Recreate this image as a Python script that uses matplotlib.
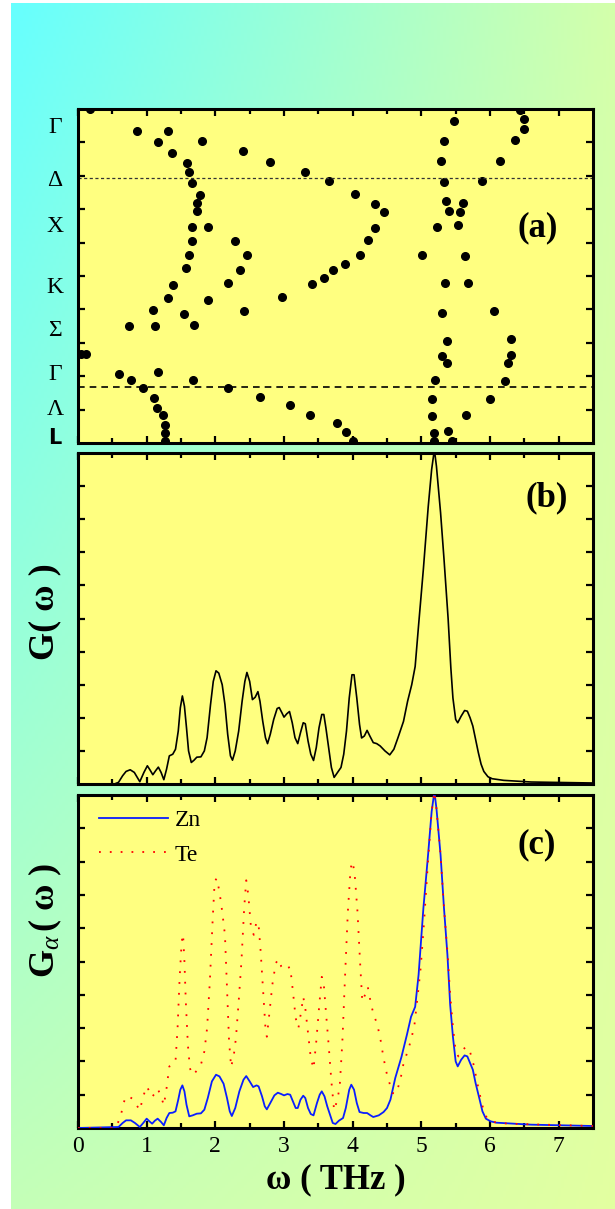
import numpy as np
import matplotlib.pyplot as plt
from matplotlib.transforms import blended_transform_factory

plt.rcParams['font.family'] = 'Liberation Serif'
plt.rcParams['mathtext.fontset'] = 'custom'
plt.rcParams['mathtext.rm'] = 'Liberation Serif'
plt.rcParams['mathtext.it'] = 'Liberation Serif:italic'
plt.rcParams['mathtext.bf'] = 'Liberation Serif:bold'

# (a) dispersion points: frequency (THz) vs. position along the k-path
omega_disp = [0.17, 0.864, 1.306, 1.16, 1.806, 1.369, 2.41, 2.79, 1.583, 1.62,
              3.30, 1.656, 3.65, 1.78, 4.03, 1.74, 4.33, 1.74, 4.46, 1.66,
              1.90, 4.32, 1.656, 2.29, 4.23, 1.61, 2.46, 4.11, 1.57, 2.36,
              3.89, 3.71, 3.58, 1.39, 2.19, 3.41, 1.31, 1.89, 2.97, 1.09,
              2.42, 1.54, 0.743, 1.117, 1.685, 0.05, 0.12, 0.597, 1.17, 0.772,
              1.67, 0.942, 2.19, 1.10, 2.655, 1.15, 3.09, 1.24, 3.38, 1.267,
              1.26, 1.26, 3.77, 3.90, 4.0,
              5.475, 5.33, 5.29, 5.33, 5.36, 5.40, 5.61, 5.57, 5.53, 5.23,
              5.01, 5.64, 5.35, 5.68, 5.30, 6.06, 5.38, 6.31, 5.30, 6.31,
              5.37, 6.26, 5.20, 6.22, 5.16, 6.00, 5.155, 5.65, 5.19, 5.39,
              5.19, 5.45, 6.50, 6.50, 6.36, 6.14, 5.88, 6.44]
k_disp = [10.0, 9.35, 9.35, 9.02, 9.05, 8.69, 8.73, 8.42, 8.39, 8.10,
          8.10, 7.77, 7.83, 7.43, 7.45, 7.18, 7.16, 6.95, 6.92, 6.48,
          6.48, 6.44, 6.05, 6.05, 6.07, 5.63, 5.63, 5.64, 5.24, 5.17,
          5.37, 5.19, 4.95, 4.74, 4.78, 4.77, 4.35, 4.28, 4.36, 3.97,
          3.96, 3.87, 3.51, 3.51, 3.54, 2.67, 2.67, 2.08, 2.14, 1.88,
          1.89, 1.65, 1.65, 1.35, 1.39, 1.04, 1.14, 0.84, 0.84, 0.54,
          0.29, 0.05, 0.59, 0.32, 0.05,
          9.63, 9.03, 8.43, 7.81, 7.24, 6.96, 7.19, 6.92, 6.54, 6.46,
          5.64, 5.61, 4.78, 4.80, 3.88, 3.95, 3.06, 3.10, 2.61, 2.63,
          2.39, 2.39, 1.88, 1.86, 1.33, 1.33, 0.81, 0.85, 0.31, 0.36,
          0.05, 0.05, 9.71, 9.39, 9.07, 8.43, 7.83, 9.97]
k_labels = ['Γ', 'Δ', 'X', 'K', 'Σ', 'Γ', 'Λ', 'L']
k_label_pos = [9.46, 7.87, 6.47, 4.67, 3.38, 2.04, 0.99, 0.15]
k_lines = [7.93, 1.68]

# (b) total density of states
omega_g = [0.0, 0.53, 0.59, 0.65, 0.70, 0.76, 0.82, 0.90, 0.96, 1.01,
           1.05, 1.09, 1.13, 1.17, 1.21, 1.25, 1.29, 1.33, 1.38, 1.42,
           1.46, 1.49, 1.52, 1.55, 1.58, 1.61, 1.65, 1.69, 1.73, 1.79,
           1.84, 1.88, 1.93, 1.97, 2.01, 2.05, 2.10, 2.14, 2.18, 2.22,
           2.25, 2.29, 2.34, 2.39, 2.43, 2.46, 2.50, 2.54, 2.58, 2.62,
           2.65, 2.69, 2.73, 2.76, 2.80, 2.85, 2.90, 2.93, 2.97, 3.00,
           3.04, 3.08, 3.12, 3.16, 3.20, 3.24, 3.28, 3.31, 3.35, 3.39,
           3.43, 3.47, 3.51, 3.55, 3.58, 3.61, 3.65, 3.69, 3.73, 3.78,
           3.83, 3.87, 3.91, 3.95, 3.99, 4.02, 4.06, 4.10, 4.13, 4.17,
           4.21, 4.25, 4.30, 4.35, 4.40, 4.47, 4.54, 4.60, 4.66, 4.74,
           4.80, 4.86, 4.91, 4.96, 5.03, 5.10, 5.15, 5.19, 5.22, 5.28,
           5.33, 5.39, 5.43, 5.46, 5.50, 5.53, 5.58, 5.63, 5.67, 5.71,
           5.75, 5.79, 5.83, 5.87, 5.91, 5.97, 6.03, 6.20, 6.60, 7.50]
g_total = [0.0, 0.0, 0.05, 0.25, 0.38, 0.43, 0.35, 0.07, 0.35, 0.55,
           0.42, 0.28, 0.40, 0.51, 0.35, 0.13, 0.45, 0.85, 0.90, 1.05,
           1.60, 2.30, 2.66, 2.35, 1.70, 1.00, 0.65, 0.72, 0.81, 0.82,
           1.00, 1.40, 2.40, 3.10, 3.42, 3.35, 3.00, 2.40, 1.50, 0.85,
           0.72, 1.00, 1.60, 2.50, 3.10, 3.37, 3.10, 2.55, 2.62, 2.79,
           2.50, 1.90, 1.40, 1.22, 1.50, 1.95, 2.28, 2.31, 2.15, 2.02,
           2.12, 2.19, 1.85, 1.40, 1.22, 1.55, 1.85, 1.82, 1.30, 0.90,
           0.71, 1.10, 1.70, 2.10, 2.10, 1.70, 1.10, 0.50, 0.20, 0.35,
           0.50, 0.90, 1.60, 2.60, 3.30, 3.30, 2.60, 1.80, 1.39, 1.45,
           1.62, 1.45, 1.25, 1.22, 1.15, 1.00, 0.88, 1.05, 1.40, 1.89,
           2.50, 3.00, 3.55, 4.80, 6.50, 8.37, 9.50, 10.1, 9.60, 8.20,
           6.80, 5.00, 3.50, 2.60, 1.95, 1.85, 2.05, 2.22, 2.20, 2.00,
           1.75, 1.35, 0.95, 0.60, 0.38, 0.22, 0.16, 0.11, 0.06, 0.03]

# (c) partial density of states
omega_zn = [0.0, 0.59, 0.65, 0.70, 0.77, 0.83, 0.90, 0.95, 1.00, 1.04,
            1.08, 1.12, 1.16, 1.21, 1.25, 1.29, 1.33, 1.38, 1.42, 1.46,
            1.49, 1.52, 1.55, 1.58, 1.62, 1.67, 1.73, 1.79, 1.84, 1.89,
            1.95, 2.01, 2.06, 2.12, 2.17, 2.21, 2.24, 2.29, 2.35, 2.41,
            2.45, 2.50, 2.55, 2.60, 2.63, 2.68, 2.72, 2.75, 2.80, 2.86,
            2.91, 2.96, 3.00, 3.05, 3.09, 3.13, 3.17, 3.20, 3.24, 3.28,
            3.31, 3.35, 3.39, 3.43, 3.48, 3.52, 3.55, 3.59, 3.63, 3.67,
            3.71, 3.75, 3.80, 3.86, 3.90, 3.95, 3.98, 4.02, 4.06, 4.10,
            4.16, 4.21, 4.26, 4.30, 4.38, 4.45, 4.50, 4.55, 4.62, 4.71,
            4.79, 4.85, 4.91, 4.96, 5.03, 5.10, 5.15, 5.19, 5.22, 5.28,
            5.33, 5.38, 5.42, 5.46, 5.50, 5.53, 5.58, 5.63, 5.67, 5.71,
            5.75, 5.79, 5.84, 5.89, 5.94, 6.01, 6.09, 6.60, 7.50]
g_zn = [0.0, 0.03, 0.15, 0.23, 0.23, 0.15, 0.03, 0.15, 0.28, 0.20,
        0.13, 0.22, 0.28, 0.18, 0.08, 0.30, 0.45, 0.46, 0.50, 0.85,
        1.15, 1.28, 1.10, 0.70, 0.35, 0.38, 0.43, 0.44, 0.55, 0.90,
        1.40, 1.60, 1.55, 1.33, 0.90, 0.50, 0.36, 0.60, 1.10, 1.45,
        1.56, 1.40, 1.23, 1.28, 1.25, 0.95, 0.65, 0.56, 0.75, 0.98,
        1.06, 1.02, 0.98, 1.02, 1.00, 0.80, 0.60, 0.60, 0.85, 0.97,
        0.90, 0.60, 0.42, 0.38, 0.75, 1.00, 1.10, 0.95, 0.65, 0.40,
        0.15, 0.12, 0.22, 0.30, 0.60, 1.15, 1.30, 1.15, 0.75, 0.48,
        0.45, 0.45, 0.38, 0.33, 0.38, 0.48, 0.60, 0.85, 1.50, 2.13,
        2.80, 3.34, 3.64, 4.60, 6.60, 8.25, 9.50, 10.1, 9.60, 8.20,
        6.60, 5.20, 3.70, 2.74, 2.00, 1.85, 2.05, 2.18, 2.15, 1.95,
        1.75, 1.35, 0.93, 0.50, 0.28, 0.20, 0.16, 0.10, 0.06]
omega_te = [0.0, 0.55, 0.58, 0.62, 0.66, 0.69, 0.74, 0.79, 0.85, 0.90,
            0.95, 1.00, 1.04, 1.08, 1.12, 1.16, 1.21, 1.25, 1.29, 1.33,
            1.38, 1.42, 1.45, 1.48, 1.51, 1.53, 1.55, 1.57, 1.60, 1.63,
            1.66, 1.70, 1.74, 1.79, 1.84, 1.88, 1.92, 1.96, 1.99, 2.02,
            2.06, 2.10, 2.14, 2.17, 2.20, 2.23, 2.27, 2.30, 2.34, 2.38,
            2.42, 2.45, 2.48, 2.52, 2.56, 2.60, 2.63, 2.66, 2.70, 2.73,
            2.75, 2.79, 2.83, 2.88, 2.92, 2.96, 3.00, 3.05, 3.09, 3.13,
            3.17, 3.21, 3.25, 3.28, 3.31, 3.35, 3.39, 3.43, 3.47, 3.51,
            3.55, 3.58, 3.61, 3.65, 3.69, 3.73, 3.77, 3.81, 3.85, 3.89,
            3.93, 3.97, 4.00, 4.03, 4.07, 4.11, 4.14, 4.18, 4.22, 4.26,
            4.30, 4.36, 4.41, 4.45, 4.50, 4.54, 4.58, 4.63, 4.69, 4.74,
            4.80, 4.85, 4.90, 4.94, 4.99, 5.04, 5.10, 5.15, 5.19, 5.22,
            5.28, 5.33, 5.38, 5.42, 5.46, 5.50, 5.54, 5.60, 5.65, 5.69,
            5.73, 5.77, 5.81, 5.86, 5.91, 5.96, 6.05, 6.26, 7.50]
g_te = [0.0, 0.0, 0.15, 0.35, 0.70, 0.93, 0.95, 0.88, 0.70, 0.53,
        0.95, 1.25, 1.10, 0.93, 1.05, 1.18, 0.95, 0.68, 1.20, 1.85,
        1.90, 2.00, 3.00, 4.50, 5.60, 5.82, 5.00, 3.80, 2.50, 1.80,
        1.60, 1.65, 1.75, 1.90, 2.30, 3.00, 4.40, 6.20, 7.40, 7.50,
        7.10, 6.50, 5.80, 4.20, 2.60, 1.83, 2.20, 2.70, 3.80, 5.00,
        6.60, 7.44, 7.00, 6.00, 5.80, 6.20, 6.10, 5.30, 4.00, 3.00,
        2.74, 3.50, 4.30, 4.95, 5.07, 4.85, 4.74, 4.80, 4.84, 4.10,
        3.30, 3.00, 3.50, 3.94, 3.60, 2.84, 2.10, 1.78, 2.60, 3.60,
        4.54, 4.30, 3.50, 2.50, 1.40, 0.53, 0.80, 1.20, 2.60, 4.60,
        6.50, 7.80, 8.00, 7.60, 6.50, 4.90, 3.80, 4.00, 4.24, 3.80,
        3.44, 3.10, 2.60, 2.10, 1.60, 1.33, 1.05, 1.03, 1.40, 1.93,
        2.30, 2.64, 3.10, 3.84, 4.80, 6.20, 8.10, 9.50, 10.1, 9.60,
        8.20, 6.60, 5.30, 4.00, 3.04, 2.30, 2.15, 2.35, 2.43, 2.40,
        2.15, 1.83, 1.40, 0.93, 0.50, 0.28, 0.18, 0.13, 0.06]

W, H = 615, 1209
fig = plt.figure(figsize=(W / 100, H / 100), dpi=100, facecolor='white')

# diagonal cyan -> yellow-green backdrop
bg = fig.add_axes([11 / W, 0, 1 - 11 / W, 1 - 3 / H], zorder=-10)
bg.set_axis_off()
c_tl = np.array([0.40, 1.00, 1.00])
c_tr = np.array([0.83, 1.00, 0.67])
c_bl = np.array([0.77, 1.00, 0.72])
c_br = np.array([0.89, 1.00, 0.63])
u = np.linspace(0, 1, 200)[None, :, None]
v = np.linspace(0, 1, 400)[:, None, None]
grad = (1 - v) * ((1 - u) * c_tl + u * c_tr) + v * ((1 - u) * c_bl + u * c_br)
bg.imshow(grad, aspect='auto', extent=[0, 1, 0, 1])

panel_bg = '#FFFF80'
left, width = 78 / W, 515 / W
ax_a = fig.add_axes([left, 766 / H, width, 334 / H])
ax_b = fig.add_axes([left, 425 / H, width, 331 / H])
ax_c = fig.add_axes([left, 81 / H, width, 333 / H])

for ax in (ax_a, ax_b, ax_c):
    ax.set_facecolor(panel_bg)
    ax.set_xlim(0, 7.5)
    ax.set_ylim(0, 10)
    ax.set_xticks(np.arange(0, 8, 1))
    ax.set_xticks(np.arange(0.5, 7.5, 1), minor=True)
    ax.set_yticks(np.arange(1, 10, 1))
    ax.set_yticklabels([])
    ax.tick_params(which='both', direction='in', top=True, right=True, width=1.6)
    ax.tick_params(which='major', length=5)
    ax.tick_params(which='minor', length=3.5)
    for s in ax.spines.values():
        s.set_linewidth(2.2)
    if ax is not ax_c:
        ax.set_xticklabels([])

# (a)
ax_a.plot(omega_disp, k_disp, 'o', color='black', markersize=5.5, clip_on=True)
ax_a.axhline(k_lines[0], color='#333333', lw=0.9, ls=(0, (2.5, 2)))
ax_a.axhline(k_lines[1], color='black', lw=1.2, ls=(0, (4, 3)))
trans = blended_transform_factory(fig.transFigure, ax_a.transData)
for lab, pos in zip(k_labels, k_label_pos):
    if lab == 'L':
        ax_a.text(55 / W, pos, lab, transform=trans, ha='center', va='center',
                  fontsize=15, fontweight='bold', family='DejaVu Sans')
    else:
        ax_a.text(55 / W, pos, lab, transform=trans, ha='center', va='center',
                  fontsize=17)
ax_a.text(0.893, 0.644, '(a)', transform=ax_a.transAxes, ha='center', va='center',
          fontsize=25, fontweight='bold')

# (b)
ax_b.plot(omega_g, g_total, color='black', lw=1.2)
ax_b.text(0.911, 0.864, '(b)', transform=ax_b.transAxes, ha='center', va='center',
          fontsize=25, fontweight='bold')
fig.text(45 / W, 1 - 612 / H, 'G( ω )', rotation=90, ha='center', va='center',
         fontsize=26, fontweight='bold')

# (c)
ax_c.plot(omega_zn, g_zn, color='#0A1EFF', lw=1.3, label='Zn', zorder=3)
ax_c.plot(omega_te, g_te, color='red', lw=1.3, ls=(0, (1, 5)), label='Te', zorder=4)
ax_c.legend(loc='upper left', bbox_to_anchor=(0.0, 1.02), frameon=False,
            handlelength=2.9, handletextpad=0.3, labelspacing=0.55, fontsize=17)
ax_c.text(0.891, 0.85, '(c)', transform=ax_c.transAxes, ha='center', va='center',
          fontsize=25, fontweight='bold')
fig.text(45 / W, 1 - 920 / H, r'$\mathbf{G}_{\alpha}\,\mathbf{(\ ω\ )}$', rotation=90,
         ha='center', va='center', fontsize=26)
ax_c.tick_params(axis='x', labelsize=17, pad=6)
ax_c.set_xlabel('ω ( THz )', fontsize=25, fontweight='bold', labelpad=4)

fig.savefig('out.png', dpi=100, facecolor=fig.get_facecolor())
